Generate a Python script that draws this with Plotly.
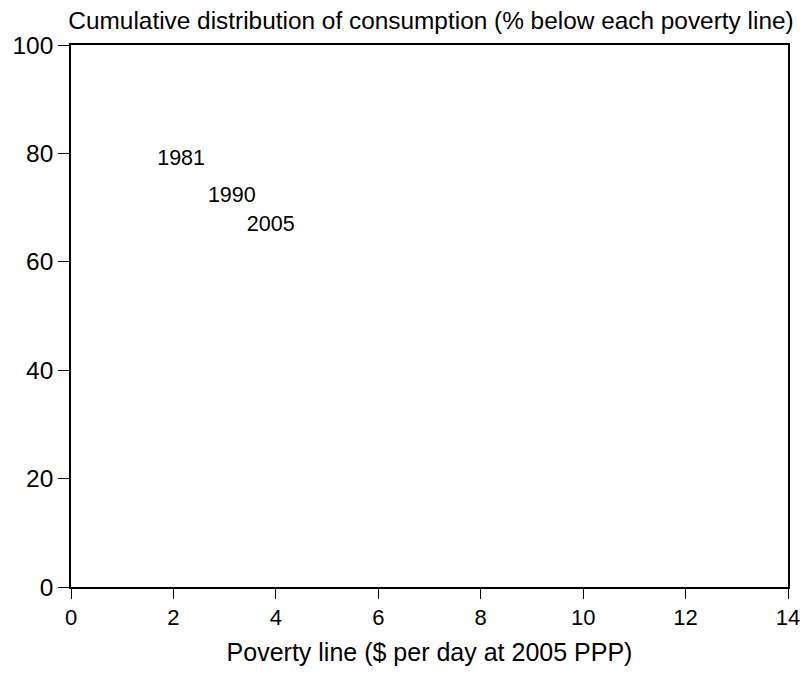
import plotly.graph_objects as go

years = ["1981", "1990", "2005"]
label_x = [2.15, 3.14, 3.90]
label_y = [78.8, 72.0, 66.6]

x_ticks = [0, 2, 4, 6, 8, 10, 12, 14]
y_ticks = [0, 20, 40, 60, 80, 100]

FONT = "Liberation Sans, Arial, sans-serif"

fig = go.Figure()
fig.add_trace(go.Scatter(
    x=label_x, y=label_y, text=years, mode="text",
    textposition="middle center",
    textfont=dict(family=FONT, size=21.5, color="black"),
    showlegend=False, hoverinfo="skip", cliponaxis=False,
))

fig.update_layout(
    width=812, height=674,
    margin=dict(l=69, r=13, t=45, b=80),
    paper_bgcolor="white", plot_bgcolor="white",
    font=dict(family=FONT, size=22, color="black"),
    title=dict(
        text="Cumulative distribution of consumption (% below each poverty line)",
        x=431 / 812, xref="container", xanchor="center",
        y=1 - 20.5 / 674, yref="container", yanchor="middle",
        font=dict(family=FONT, size=24.4, color="black"),
    ),
    showlegend=False,
)
fig.update_xaxes(
    range=[0, 14], tickvals=x_ticks, showgrid=False, zeroline=False,
    showline=True, linecolor="black", linewidth=1.5, mirror=True,
    ticks="outside", ticklen=10, tickcolor="black", tickwidth=1,
    tickfont=dict(size=22),
    title=dict(text="Poverty line ($ per day at 2005 PPP)", font=dict(size=25), standoff=14),
)
fig.update_yaxes(
    range=[0, 100], tickvals=y_ticks, showgrid=False, zeroline=False,
    showline=True, linecolor="black", linewidth=1.5, mirror=True,
    ticks="outside", ticklen=11, tickcolor="black", tickwidth=1,
    tickfont=dict(size=24.5),
)

post = (
    "document.documentElement.style.margin='0';"
    "document.documentElement.style.padding='0';"
    "document.documentElement.style.overflow='hidden';"
    "document.body.style.margin='0';"
    "document.body.style.padding='0';"
    "document.body.style.overflow='hidden';"
    "document.body.style.height='674px';"
)
fig.write_html("out.html", post_script=post, config={"displayModeBar": False})
